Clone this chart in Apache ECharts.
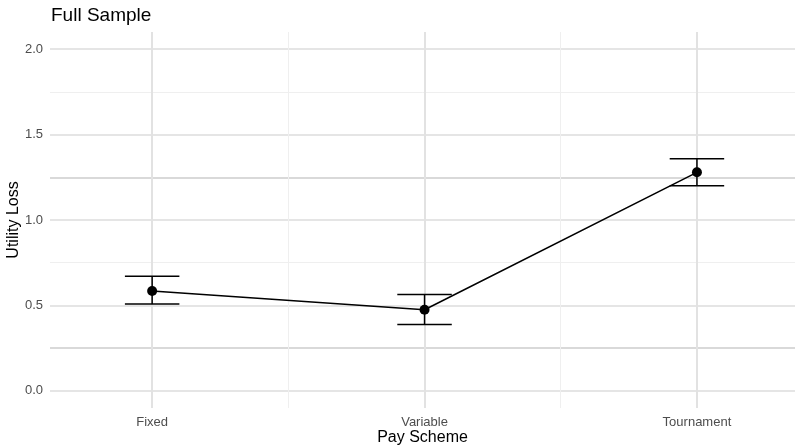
<!DOCTYPE html>
<html>
<head>
<meta charset="utf-8">
<script src="https://cdn.jsdelivr.net/npm/echarts@6/dist/echarts.min.js"></script>
<style>html,body{margin:0;padding:0;background:#fff;}#c{width:795px;height:445px;}</style>
</head>
<body>
<div id="c"></div>
<script>
var categories = ['Fixed', 'Variable', 'Tournament'];
var means = [0.585, 0.475, 1.279];
var lower = [0.509, 0.388, 1.201];
var upper = [0.671, 0.564, 1.358];
var yTicks = [0, 0.5, 1.0, 1.5, 2.0];
var yMinor = [0.25, 0.75, 1.25, 1.75];
var xMinor = [0.5, 1.5];

var font = 'Liberation Sans, Arial, sans-serif';
var chart = echarts.init(document.getElementById('c'));

var gridLines = [];
yTicks.forEach(function (v) {
  gridLines.push({ yAxis: v, lineStyle: { color: '#dcdcdc', width: 1.6, type: 'solid' } });
});
yMinor.forEach(function (v, i) {
  gridLines.push({ yAxis: v, lineStyle: { color: (i % 2 === 0) ? '#cdcdcd' : '#efefef', width: (i % 2 === 0) ? 1.6 : 1, type: 'solid' } });
});
categories.forEach(function (c, i) {
  gridLines.push({ xAxis: i, lineStyle: { color: '#e2e2e2', width: 2, type: 'solid' } });
});
xMinor.forEach(function (v) {
  gridLines.push({ xAxis: v, lineStyle: { color: '#efefef', width: 1, type: 'solid' } });
});

var errData = categories.map(function (c, i) { return [i, lower[i], upper[i]]; });
var pointData = categories.map(function (c, i) { return [i, means[i]]; });

chart.setOption({
  animation: false,
  backgroundColor: '#ffffff',
  title: {
    text: 'Full Sample', left: 51, top: 6, padding: 0,
    textStyle: { fontFamily: font, fontSize: 19, fontWeight: 'normal', color: '#000' }
  },
  grid: { left: 50, top: 32, width: 745, height: 376, containLabel: false, outerBoundsMode: 'none' },
  xAxis: {
    type: 'value', min: -0.375, max: 2.36,
    name: 'Pay Scheme', nameLocation: 'middle', nameGap: 22, nameMoveOverlap: false,
    nameTextStyle: { fontFamily: font, fontSize: 16, color: '#000' },
    axisLine: { show: false }, axisTick: { show: false }, splitLine: { show: false },
    axisLabel: {
      customValues: [0, 1, 2], margin: 8,
      fontFamily: font, fontSize: 13, color: '#4d4d4d',
      formatter: function (v) { return categories[Math.round(v)] || ''; }
    }
  },
  yAxis: {
    type: 'value', min: -0.1, max: 2.1,
    name: 'Utility Loss', nameLocation: 'middle', nameGap: 28, nameMoveOverlap: false,
    nameTextStyle: { fontFamily: font, fontSize: 16, color: '#000' },
    axisLine: { show: false }, axisTick: { show: false }, splitLine: { show: false },
    axisLabel: {
      customValues: yTicks, margin: 7,
      fontFamily: font, fontSize: 13, color: '#4d4d4d',
      formatter: function (v) { return v.toFixed(1); }
    }
  },
  series: [
    {
      type: 'line', data: [], silent: true, z: 0,
      markLine: { z: 1, silent: true, symbol: ['none', 'none'], label: { show: false }, animation: false, data: gridLines }
    },
    {
      type: 'custom', z: 10, data: errData,
      renderItem: function (params, api) {
        var x = api.value(0);
        var lo = api.coord([x, api.value(1)]);
        var hi = api.coord([x, api.value(2)]);
        var hw = api.size([0.1, 0])[0];
        var st = { stroke: '#000', lineWidth: 1.5 };
        return {
          type: 'group',
          children: [
            { type: 'line', shape: { x1: lo[0], y1: lo[1], x2: hi[0], y2: hi[1] }, style: st },
            { type: 'line', shape: { x1: lo[0] - hw, y1: lo[1], x2: lo[0] + hw, y2: lo[1] }, style: st },
            { type: 'line', shape: { x1: hi[0] - hw, y1: hi[1], x2: hi[0] + hw, y2: hi[1] }, style: st }
          ]
        };
      }
    },
    {
      type: 'line', z: 11, data: pointData,
      symbol: 'circle', symbolSize: 10,
      itemStyle: { color: '#000' },
      lineStyle: { color: '#000', width: 1.5 }
    }
  ]
});
</script>
</body>
</html>
